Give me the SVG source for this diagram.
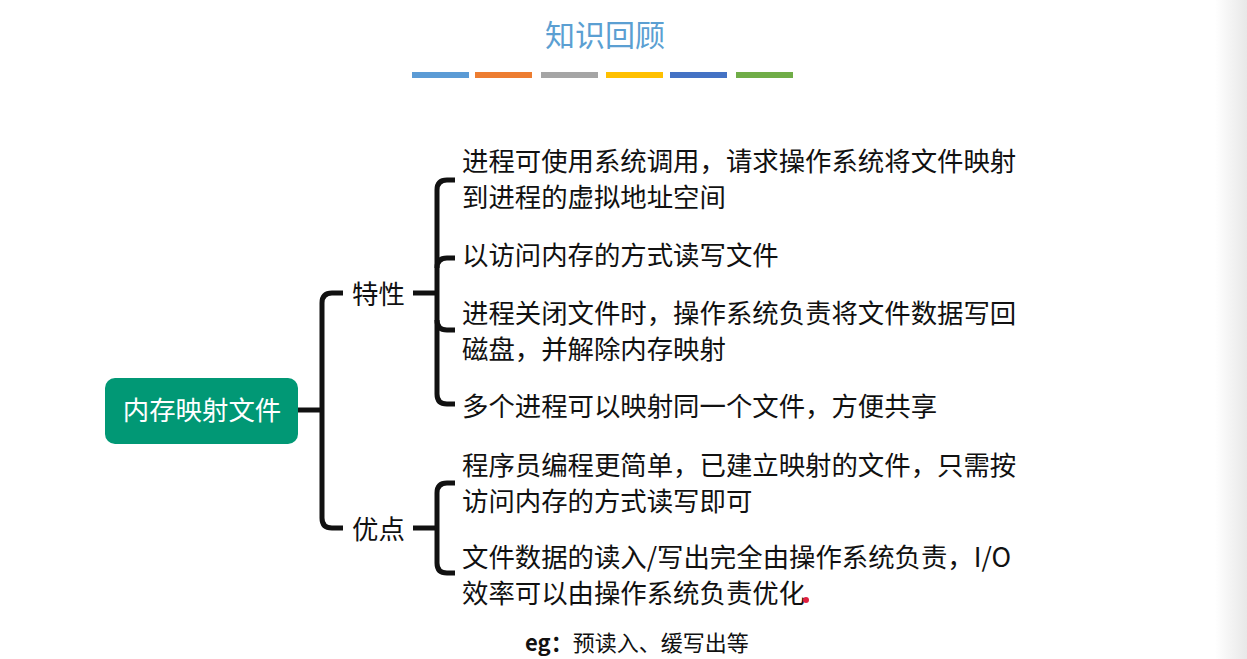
<svg xmlns="http://www.w3.org/2000/svg" width="1247" height="659" viewBox="0 0 1247 659">
<defs>
<style>
.t{font-family:"Noto Sans CJK SC","Noto Sans",sans-serif;font-size:26.4px;fill:#111}
.c{fill:none;stroke:#111;stroke-width:5;stroke-linecap:butt}
</style>
<linearGradient id="g" x1="0" x2="1"><stop offset="0" stop-color="#fff"/><stop offset="1" stop-color="#e8e8e8"/></linearGradient>
</defs>
<rect width="1247" height="659" fill="#fff"/>
<rect x="1215" y="0" width="32" height="659" fill="url(#g)"/>
<text x="605" y="46" text-anchor="middle" font-family="Noto Sans CJK SC,sans-serif" font-size="30" fill="#5b9fd2">知识回顾</text>
<g>
<rect x="412" y="72" width="57" height="6" fill="#5b9bd5"/>
<rect x="475" y="72" width="57" height="6" fill="#ed7d31"/>
<rect x="541" y="72" width="57" height="6" fill="#a5a5a5"/>
<rect x="606" y="72" width="57" height="6" fill="#ffc000"/>
<rect x="670" y="72" width="57" height="6" fill="#4472c4"/>
<rect x="736" y="72" width="57" height="6" fill="#70ad47"/>
</g>
<g id="connectors">
<path class="c" d="M298 410H322"/>
<path class="c" d="M343 293H332Q322 293 322 303V518Q322 528 332 528H343"/>
<path class="c" d="M413 293H437"/>
<path class="c" d="M455 180H447Q437 180 437 190V394Q437 404 447 404H455"/>
<path class="c" d="M437 268Q437 258 447 258H455"/>
<path class="c" d="M437 320Q437 330 447 330H455"/>
<path class="c" d="M413 528H437"/>
<path class="c" d="M455 483H447Q437 483 437 493V563Q437 573 447 573H455"/>
</g>
<g id="root"><rect x="105" y="378" width="193" height="66" rx="10" fill="#019875"/><text x="202" y="420" text-anchor="middle" class="t" style="fill:#fff">内存映射文件</text></g>
<g id="n1"><text x="352" y="304" class="t">特性</text></g>
<g id="n2"><text x="352" y="539" class="t">优点</text></g>
<g id="a1"><text x="462" y="171" class="t">进程可使用系统调用，请求操作系统将文件映射</text><text x="462" y="207" class="t">到进程的虚拟地址空间</text></g>
<g id="a2"><text x="462" y="265" class="t">以访问内存的方式读写文件</text></g>
<g id="a3"><text x="462" y="323" class="t">进程关闭文件时，操作系统负责将文件数据写回</text><text x="462" y="359" class="t">磁盘，并解除内存映射</text></g>
<g id="a4"><text x="462" y="416" class="t">多个进程可以映射同一个文件，方便共享</text></g>
<g id="b1"><text x="462" y="475" class="t">程序员编程更简单，已建立映射的文件，只需按</text><text x="462" y="511" class="t">访问内存的方式读写即可</text></g>
<g id="b2"><text x="462" y="567" class="t">文件数据的读入/写出完全由操作系统负责，I/O</text><text x="462" y="603" class="t">效率可以由操作系统负责优化</text></g>
<circle cx="806" cy="600" r="3" fill="#e02040"/>
<text x="525" y="651" font-family="Noto Sans CJK SC,sans-serif" font-size="22" fill="#111"><tspan font-weight="bold">eg：</tspan>预读入、缓写出等</text>
</svg>
